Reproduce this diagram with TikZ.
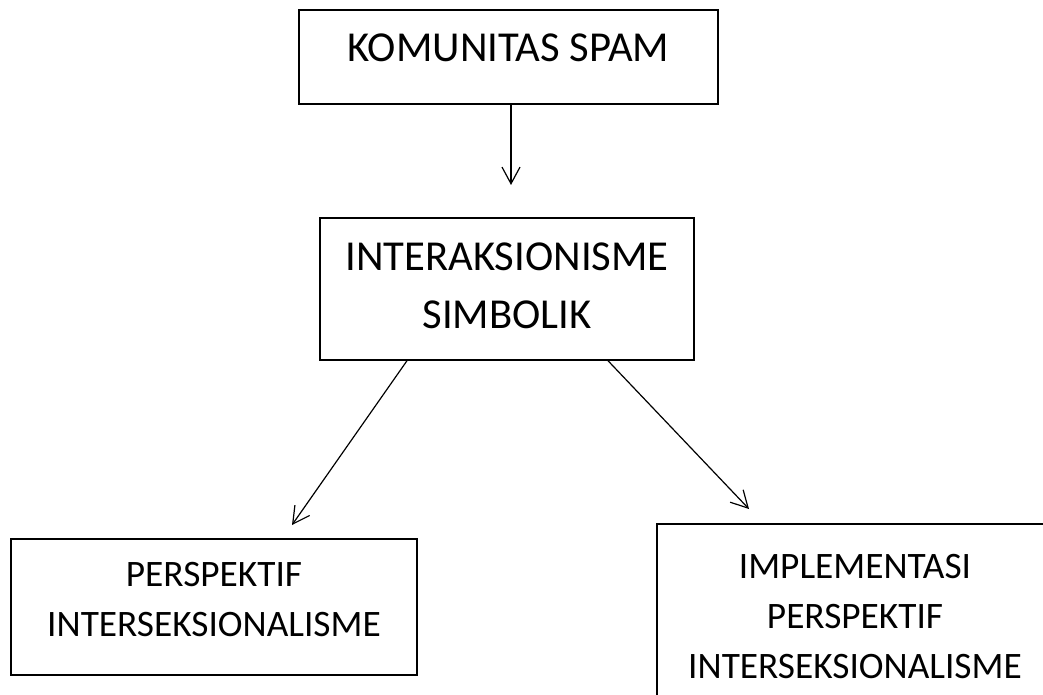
\documentclass[tikz,border=0pt]{standalone}
\usepackage{fontspec}
\setmainfont{Carlito}
\usetikzlibrary{arrows.meta,positioning}
\tikzset{
  box/.style={draw=black, line width=1.1pt, inner sep=0pt, align=center, font=\fontsize{28}{37.5}\selectfont},
  bigbox/.style={box, font=\fontsize{32}{43.5}\selectfont},
  arrow/.style={-{Straight Barb[length=12.5pt,width=13.5pt,line width=0.9pt]}, line width=0.9pt, draw=black}
}
\begin{document}
\begin{tikzpicture}[x=0.75pt,y=-0.75pt]
\path[use as bounding box, clip] (0,0) rectangle (1043,695);
\node[bigbox, minimum width=314.25pt, minimum height=70.5pt, text depth=13.5pt] (spam) at (508.5,57) {KOMUNITAS SPAM};
\node[bigbox, minimum width=280.5pt, minimum height=106.5pt, text depth=5.25pt] (ik) at (507,289) {INTERAKSIONISME\\SIMBOLIK};
\node[box, minimum width=304.5pt, minimum height=102pt, text depth=11.25pt] (pi) at (214,607) {PERSPEKTIF\\INTERSEKSIONALISME};
\node[box, minimum width=297pt, minimum height=139.5pt] (ipi) at (855,617) {IMPLEMENTASI\\PERSPEKTIF\\INTERSEKSIONALISME};
% arrow ends
\coordinate (ikin) at (511,185);
\coordinate (piin) at (292,525);
\coordinate (ipiin) at (749,509);
\draw[arrow] (spam.south -| ikin) -- (ikin);
\draw[arrow] (ik.south -| 407,0) -- (piin);
\draw[arrow] (ik.south -| 608,0) -- (ipiin);
\end{tikzpicture}
\end{document}
